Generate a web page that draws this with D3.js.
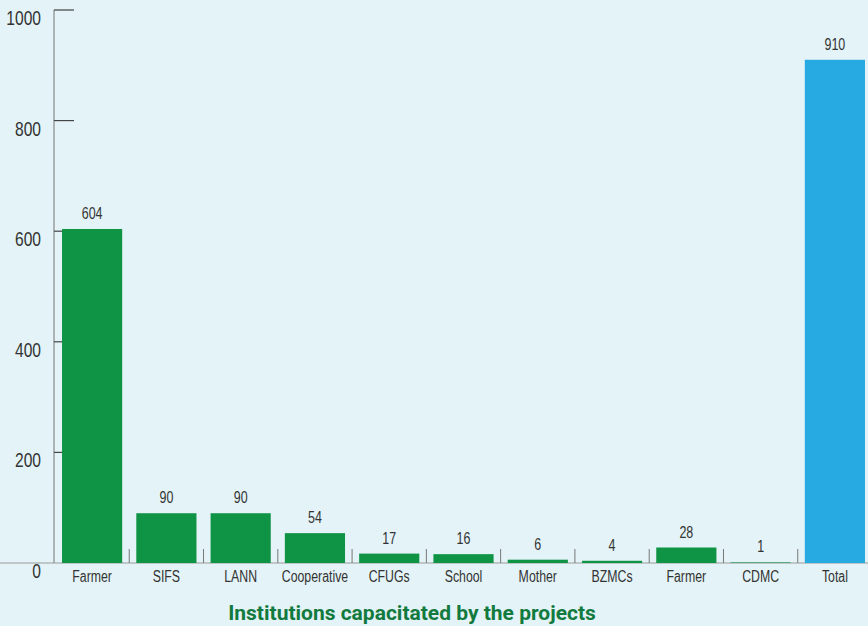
<!DOCTYPE html>
<html>
<head>
<meta charset="utf-8">
<script src="https://cdn.jsdelivr.net/npm/d3@7"></script>
<style>
  body { margin: 0; background: #e4f3f7; }
  svg { display: block; }
  text { font-family: "Liberation Sans", Arial, sans-serif; fill: #333; }
</style>
</head>
<body>
<script>
// data
var categories = ["Farmer", "SIFS", "LANN", "Cooperative", "CFUGs", "School", "Mother", "BZMCs", "Farmer ", "CDMC", "Total"];
var labels = ["Farmer", "SIFS", "LANN", "Cooperative", "CFUGs", "School", "Mother", "BZMCs", "Farmer", "CDMC", "Total"];
var values = [604, 90, 90, 54, 17, 16, 6, 4, 28, 1, 910];
var yTicks = [0, 200, 400, 600, 800, 1000];
var title = "Institutions capacitated by the projects";

var width = 868, height = 626;
var axisX = 54, baseY = 563, topY = 10;

var svg = d3.select("body").append("svg")
    .attr("width", width)
    .attr("height", height);

var y = d3.scaleLinear()
    .domain([0, 1000])
    .range([baseY, topY]);

var x = d3.scaleBand()
    .domain(categories)
    .range([axisX, 873])
    .paddingInner(0.19)
    .paddingOuter(0.108);

// narrow text look: squeeze horizontally around the anchor point
function squeeze(px, py, s) {
    return "translate(" + px + "," + py + ") scale(" + s + ",1)";
}

// baseline
svg.append("line")
    .attr("x1", 0).attr("x2", width)
    .attr("y1", baseY).attr("y2", baseY)
    .attr("stroke", "#9a9a9a").attr("stroke-width", 1);

// y axis line
svg.append("line")
    .attr("x1", axisX).attr("x2", axisX)
    .attr("y1", topY).attr("y2", baseY)
    .attr("stroke", "#8a8a8a").attr("stroke-width", 1.2);

// y ticks (pointing right, label below the tick)
var yt = svg.selectAll(".ytick")
    .data(yTicks)
    .enter()
    .append("g")
    .attr("class", "ytick");

yt.filter(function(d) { return d > 0; })
    .append("line")
    .attr("x1", axisX).attr("x2", axisX + 20)
    .attr("y1", function(d) { return y(d); })
    .attr("y2", function(d) { return y(d); })
    .attr("stroke", "#444").attr("stroke-width", 1.2);

yt.append("text")
    .attr("transform", function(d) { return squeeze(41, y(d) + 15, 0.78); })
    .attr("text-anchor", "end")
    .style("font-size", "20px")
    .text(function(d) { return d; });

// separators between categories
var seps = categories.slice(0, -1).map(function(c) {
    return x(c) + x.bandwidth() + x.step() * x.paddingInner() / 2;
});
svg.selectAll(".sep")
    .data(seps)
    .enter()
    .append("line")
    .attr("x1", function(d) { return d; })
    .attr("x2", function(d) { return d; })
    .attr("y1", baseY - 14).attr("y2", baseY)
    .attr("stroke", "#777").attr("stroke-width", 1);

// bars
svg.selectAll(".bar")
    .data(values)
    .enter()
    .append("rect")
    .attr("x", function(d, i) { return x(categories[i]); })
    .attr("y", function(d) { return y(d); })
    .attr("width", x.bandwidth())
    .attr("height", function(d) { return baseY - y(d); })
    .attr("fill", function(d, i) { return i == values.length - 1 ? "#27a9e1" : "#0f9345"; });

// value labels
svg.selectAll(".val")
    .data(values)
    .enter()
    .append("text")
    .attr("transform", function(d, i) {
        return squeeze(x(categories[i]) + x.bandwidth() / 2, y(d) - 10, 0.78);
    })
    .attr("text-anchor", "middle")
    .style("font-size", "16px")
    .text(function(d) { return d; });

// category labels
svg.selectAll(".cat")
    .data(categories)
    .enter()
    .append("text")
    .attr("transform", function(d) { return squeeze(x(d) + x.bandwidth() / 2, 582, 0.77); })
    .attr("text-anchor", "middle")
    .style("font-size", "16px")
    .text(function(d, i) { return labels[i]; });

// title
svg.append("text")
    .attr("x", 412)
    .attr("y", 620)
    .attr("text-anchor", "middle")
    .style("font-family", "Roboto, sans-serif")
    .style("font-weight", "bold")
    .style("font-size", "21px")
    .style("fill", "#127a3e")
    .text(title);
</script>
</body>
</html>
